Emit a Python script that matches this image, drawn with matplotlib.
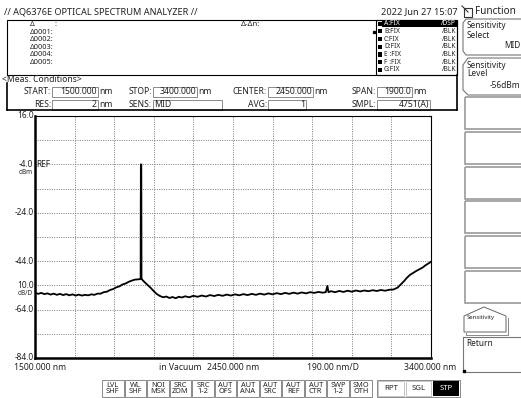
import matplotlib.pyplot as plt
from matplotlib.patches import Rectangle, Polygon
import numpy as np

plt.rcParams['font.family'] = ['Noto Sans', 'DejaVu Sans']

W, H = 521, 398

# spectrum trace A (wavelength nm, level dBm)
wl = [1500, 1515, 1530, 1545, 1560, 1575, 1590, 1605, 1620, 1635, 1650, 1665, 1680, 1695,
      1710, 1725, 1740, 1755, 1770, 1785, 1800, 1815, 1830, 1845, 1860, 1875, 1890, 1905,
      1920, 1935, 1950, 1965, 1980, 1995, 2004, 2007, 2008, 2010, 2011, 2014, 2025, 2040,
      2055, 2070, 2085, 2100, 2115, 2130, 2145, 2160, 2175, 2190, 2205, 2220, 2240, 2260,
      2280, 2300, 2320, 2340, 2360, 2380, 2400, 2420, 2440, 2460, 2480, 2500, 2520, 2540,
      2560, 2580, 2600, 2620, 2640, 2660, 2680, 2700, 2720, 2740, 2760, 2780, 2800, 2820,
      2840, 2860, 2880, 2895, 2903, 2908, 2920, 2940, 2960, 2980, 3000, 3020, 3040, 3060,
      3080, 3100, 3120, 3140, 3160, 3180, 3200, 3220, 3240, 3255, 3270, 3285, 3300, 3315,
      3330, 3345, 3360, 3375, 3390, 3400]
lvl = [-57.0, -57.5, -57.1, -57.6, -57.3, -57.8, -57.4, -57.9, -57.5, -58.0, -57.6, -58.1, -57.7, -58.2,
       -57.8, -58.2, -57.9, -58.1, -57.7, -57.9, -57.4, -57.4, -56.8, -56.6, -55.9, -55.5, -54.8, -54.4,
       -53.6, -53.2, -52.5, -52.0, -51.6, -51.5, -51.4, -51.2, -4.0, -4.0, -51.0, -51.6, -52.6, -53.8,
       -55.0, -56.4, -57.6, -58.4, -58.9, -58.6, -59.2, -58.8, -59.3, -58.7, -59.0, -58.5, -58.9, -58.3,
       -58.7, -58.2, -58.6, -58.0, -58.4, -57.9, -58.3, -57.8, -58.2, -57.7, -58.1, -57.6, -58.0, -57.5,
       -57.9, -57.4, -57.8, -57.3, -57.7, -57.2, -57.6, -57.1, -57.5, -57.0, -57.4, -56.9, -57.3, -56.8,
       -57.1, -56.7, -57.0, -56.8, -54.2, -56.8, -56.4, -56.8, -56.3, -56.7, -56.2, -56.6, -56.1, -56.5,
       -56.1, -56.4, -56.0, -56.3, -55.9, -56.2, -55.8, -55.7, -54.9, -53.6, -52.3, -50.8, -49.6, -48.8,
       -48.0, -47.3, -46.6, -45.6, -44.8, -44.2]

# faint second line beside the peak
ghost_wl = [2004.0, 2004.0]
ghost_lvl = [-51.5, -17.5]

y_labels = ["16.0", "-4.0", "-24.0", "-44.0", "-64.0", "-84.0"]
y_label_vals = [16.0, -4.0, -24.0, -44.0, -64.0, -84.0]

delta_rows = ["Δ0001:", "Δ0002:", "Δ0003:", "Δ0004:", "Δ0005:"]
traces = ["A:FIX", "B:FIX", "C:FIX", "D:FIX", "E :FIX", "F :FIX", "G:FIX"]
trace_modes = ["/DSP", "/BLK", "/BLK", "/BLK", "/BLK", "/BLK", "/BLK"]

# (label, box x0, box x1, value, align, unit)
row1 = [("START:", 52, 98, "1500.000", "right", "nm"),
        ("STOP:", 153, 197, "3400.000", "right", "nm"),
        ("CENTER:", 268, 313, "2450.000", "right", "nm"),
        ("SPAN:", 377, 412, "1900.0", "right", "nm")]
row2 = [("RES:", 52, 98, "2", "right", "nm"),
        ("SENS:", 153, 222, "MID", "left", ""),
        ("AVG:", 268, 306, "1", "right", ""),
        ("SMPL:", 377, 430, "4751(A)", "right", "")]

buttons = ["LVL\nSHF", "WL\nSHF", "NOI\nMSK", "SRC\nZOM", "SRC\n1-2", "AUT\nOFS",
           "AUT\nANA", "AUT\nSRC", "AUT\nREF", "AUT\nCTR", "SWP\n1-2", "SMO\nOTH"]
sweep_buttons = ["RPT", "SGL", "STP"]

fig = plt.figure(figsize=(W / 100, H / 100), dpi=100)
ui = fig.add_axes([0, 0, 1, 1])
ui.set_xlim(0, W)
ui.set_ylim(H, 0)
ui.axis('off')

TXT = '#222222'
FS = 6.2


def t(x, y, s, **kw):
    kw.setdefault('fontsize', FS)
    kw.setdefault('color', TXT)
    kw.setdefault('va', 'center')
    ui.text(x, y, s, **kw)


def box(x0, y0, x1, y1, ec='black', fc='none', lw=0.8):
    ui.add_patch(Rectangle((x0, y0), x1 - x0, y1 - y0, ec=ec, fc=fc, lw=lw))


# header
t(4, 12, "// AQ6376E OPTICAL SPECTRUM ANALYZER //", fontsize=6.6)
t(458, 12, "2022 Jun 27 15:07", ha='right', fontsize=6.6)
box(464, 8, 472, 17, ec='#333333', lw=0.8)
ui.plot([462, 468], [6, 12], color='#333333', lw=0.8)
t(475, 12, "Function", fontsize=7.2)

# marker box
box(7, 20, 457, 75)
t(30, 25, "Δ", fontsize=5.3)
t(54, 25, ":", fontsize=5.3)
for i, s in enumerate(delta_rows):
    t(30, 32.4 + i * 7.4, s, fontsize=5.3)
t(241, 25, "Δ-Δn:", fontsize=5.6)

# trace list
box(376, 20, 457, 75)
box(382, 20.5, 457, 27, ec='none', fc='black')
for i, (name, mode) in enumerate(zip(traces, trace_modes)):
    y = 23.7 + i * 7.7
    c = 'white' if i == 0 else TXT
    ui.add_patch(Rectangle((377.5, y - 2.2), 4.2, 4.2, fc='black', ec='none'))
    t(384, y, name, fontsize=4.8, color=c)
    t(456, y, mode, fontsize=4.8, color=c, ha='right')
ui.plot([373.5], [31.5], marker='s', ms=1.4, color='black')

# measurement conditions
t(2, 79, "<Meas. Conditions>", fontsize=6.2)
ui.plot([7, 7], [83, 110], color='black', lw=1.2)
ui.plot([7, 457], [110, 110], color='black', lw=1.2)
ui.plot([457, 457], [75, 110], color='black', lw=1.2)
for yc, row in [(91.5, row1), (104.5, row2)]:
    for lab, x0, x1, val, al, unit in row:
        t(x0 - 1, yc, lab, ha='right')
        box(x0, yc - 5, x1, yc + 5, ec='#8a8a8a', lw=0.7)
        if al == 'right':
            t(x1 - 1, yc, val, ha='right')
        else:
            t(x0 + 1.5, yc, val)
        if unit:
            t(x1 + 1.5, yc, unit)

# right soft keys
ui.add_patch(Polygon([(463, 23), (466, 19), (530, 19), (530, 55), (466, 55), (463, 51)],
                     closed=True, ec='#777777', fc='white', lw=0.8))
t(467, 26, "Sensitivity", fontsize=6)
t(467, 35, "Select", fontsize=6)
t(520.5, 45, "MID", fontsize=6, ha='right')
ui.add_patch(Polygon([(463, 65), (468, 58), (530, 58), (530, 95), (468, 95), (463, 90)],
                     closed=True, ec='#777777', fc='white', lw=0.8))
t(467, 65, "Sensitivity", fontsize=6)
t(467, 74, "Level", fontsize=6)
t(520.5, 85, "-56dBm", fontsize=6, ha='right')
for y0 in [97, 132, 167, 201, 236, 271]:
    box(465, y0, 530, y0 + 32, ec='#9a9a9a', lw=1.2)
ui.add_patch(Polygon([(464, 316), (484, 307), (506, 316), (506, 332), (464, 332)],
                     closed=True, ec='#666666', fc='white', lw=0.7))
ui.plot([466, 466, 508, 508], [333, 335, 335, 318], color='#888888', lw=0.7)
t(467, 318, "Sensitivity", fontsize=4.3)
box(463, 337, 530, 372, ec='#777777', lw=0.8)
t(466, 344, "Return", fontsize=6)
ui.plot([463.5], [371], marker='s', ms=1.5, color='black')

# bottom labels
t(40, 368, "1500.000 nm", ha='center')
t(180, 368, "in Vacuum", ha='center')
t(233, 368, "2450.000 nm", ha='center')
t(333, 368, "190.00 nm/D", ha='center')
t(430, 368, "3400.000 nm", ha='center')

# bottom buttons
bw = (372 - 101.5) / len(buttons)
for i, b in enumerate(buttons):
    x0 = 101.5 + i * bw
    box(x0 + 0.5, 380, x0 + bw - 0.5, 397, ec='#8a8a8a', lw=0.7)
    t(x0 + bw / 2, 388.5, b, ha='center', fontsize=5.3, linespacing=0.85)
box(377, 380, 460, 397, ec='#8a8a8a', lw=0.7)
sw = (460 - 377) / 3
for i, b in enumerate(sweep_buttons):
    x0 = 377 + i * sw
    if b == "STP":
        box(x0 + 1, 381, x0 + sw - 1, 396, ec='none', fc='black')
        t(x0 + sw / 2, 388.5, b, ha='center', fontsize=5.6, color='white')
    else:
        box(x0 + 1, 381, x0 + sw - 1, 396, ec='#bbbbbb', lw=0.6)
        t(x0 + sw / 2, 388.5, b, ha='center', fontsize=5.6)

# spectrum plot
L, R, T, B = 35, 431, 116, 358
ax = fig.add_axes([L / W, 1 - B / H, (R - L) / W, (B - T) / H])
ax.set_xlim(1500, 3400)
ax.set_ylim(-84, 16)
ax.set_xticks(np.arange(1500, 3401, 190))
ax.set_yticks(np.arange(-84, 16.1, 10))
ax.grid(True, color='#6a6a6a', ls=(0, (1.2, 1.6)), lw=0.6)
ax.tick_params(length=0, labelleft=False, labelbottom=False)
for s in ['top', 'right']:
    ax.spines[s].set_linewidth(0.8)
for s in ['left', 'bottom']:
    ax.spines[s].set_linewidth(1.8)

ax.plot(ghost_wl, ghost_lvl, color='#9a9a9a', lw=0.9, zorder=3)
ax.plot(wl, lvl, color='black', lw=1.3, zorder=4)

ytr = ax.get_yaxis_transform()
for v, s in zip(y_label_vals, y_labels):
    ax.text(-0.004, v, s, transform=ytr, ha='right', va='center', fontsize=6, color=TXT)
ax.text(0.004, -4.0, "REF", transform=ytr, ha='left', va='center', fontsize=6, color=TXT)
ax.text(-0.006, -7.2, "dBm", transform=ytr, ha='right', va='center', fontsize=4.6, color=TXT)
ax.text(-0.004, -54.0, "10.0", transform=ytr, ha='right', va='center', fontsize=6, color=TXT)
ax.text(-0.006, -57.2, "dB/D", transform=ytr, ha='right', va='center', fontsize=4.6, color=TXT)

fig.savefig("out.png", dpi=100)
